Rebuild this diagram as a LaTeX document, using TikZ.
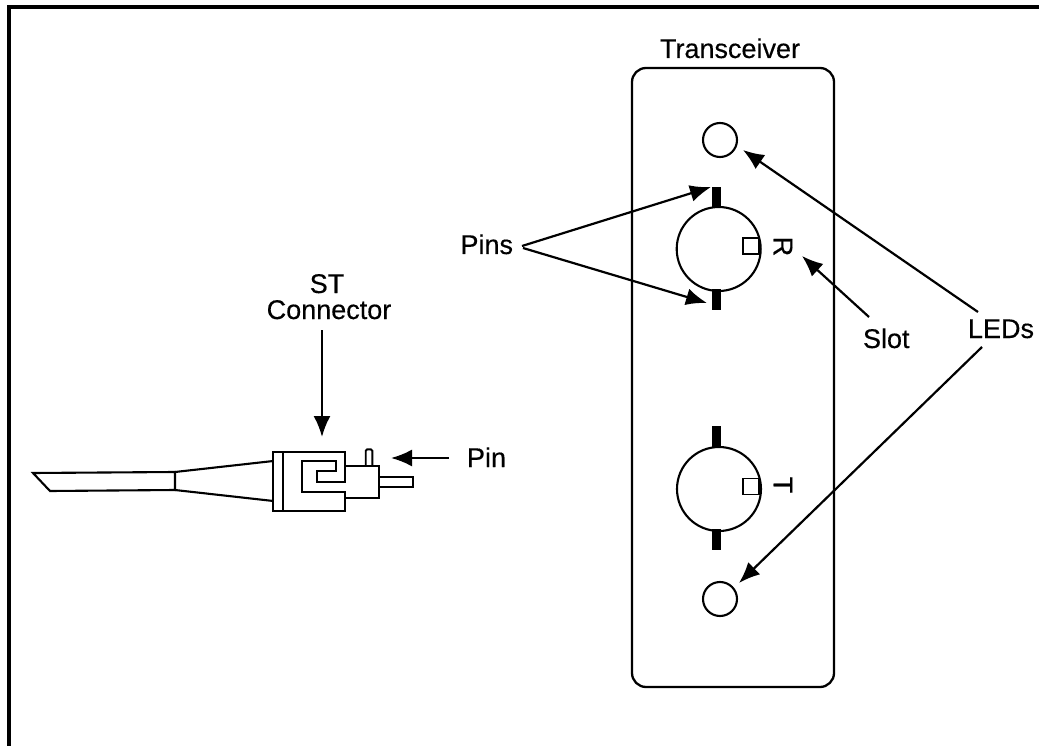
\documentclass[tikz,border=0pt]{standalone}
\usepackage{fontspec}
\setmainfont{Liberation Sans}
\newfontfamily\lblfont[FakeBold=0.35]{Liberation Sans}
\usetikzlibrary{arrows.meta}
\tikzset{
  lbl/.style={inner sep=0pt,outer sep=0pt,font=\lblfont\fontsize{27}{31}\selectfont},
  ink/.style={line width=2.1pt,line join=miter},
  thin ink/.style={line width=1.9pt},
  arrowline/.style={line width=2.2pt,-{Latex[length=21pt,width=17pt]}},
  ledc/.style={circle,draw,line width=2.1pt,minimum size=34pt,inner sep=0pt,outer sep=0pt},
  ferrule/.style={circle,draw,line width=2.1pt,minimum size=84pt,inner sep=0pt,outer sep=0pt},
  pinbar/.style={rectangle,fill=black,minimum width=9.5pt,minimum height=21pt,inner sep=0pt,outer sep=0pt},
  slotbox/.style={rectangle,draw,line width=1.9pt,minimum width=16pt,minimum height=16pt,inner sep=0pt,outer sep=0pt},
}
\begin{document}
\begin{tikzpicture}[x=1pt,y=-1pt]
\useasboundingbox (0,0) rectangle (1039,746);
% frame
\draw[line width=3.8pt] (9,746) -- (9,7) -- (1039,7);
% transceiver panel
\node[draw,line width=2.3pt,rounded corners=14pt,minimum width=202pt,minimum height=619pt,inner sep=0pt,outer sep=0pt] (panel) at (733,377.5) {};
\node[lbl,anchor=base] (title) at (730,58) {Transceiver};
% LEDs
\node[ledc] (ledtop) at (720,140) {};
\node[ledc] (ledbot) at (720,599) {};
% receptacles
\node[ferrule] (rx) at (718.7,249) {};
\node[ferrule] (tx) at (719,489) {};
\node[pinbar] (rxa) at (716.5,197.5) {};
\node[pinbar] (rxb) at (716.5,299.5) {};
\node[pinbar] (txa) at (716.5,436.5) {};
\node[pinbar] (txb) at (716.5,539) {};
\node[slotbox] (rxs) at (751,246) {};
\node[slotbox] (txs) at (751,486.5) {};
\node[lbl,rotate=-90,anchor=center] (rlet) at (783,246.5) {R};
\node[lbl,rotate=-90,anchor=center] (tlet) at (783,485) {T};
% labels
\node[lbl,anchor=base east] (pins) at (513,254) {Pins};
\node[lbl,anchor=base west] (slot) at (863,348) {Slot};
\node[lbl,anchor=base west] (leds) at (968,338) {LEDs};
\node[lbl,anchor=base] (st) at (327,293) {ST};
\node[lbl,anchor=base] (conn) at (329,319) {Connector};
\node[lbl,anchor=base west] (pinl) at (467,467) {Pin};
% connector end points
\coordinate (pinsup) at (522,246);
\coordinate (pinsdn) at (523,248);
\coordinate (pinsupt) at (711,187);
\coordinate (pinsdnt) at (707,303);
\coordinate (slotst) at (869,317);
\coordinate (slott) at (802,256);
\coordinate (ledsup) at (978,312);
\coordinate (ledsdn) at (982,347);
\coordinate (ledupt) at (743,150);
\coordinate (leddnt) at (739,583);
\coordinate (stst) at (322,330);
\coordinate (stt) at (322,437);
\coordinate (pinst) at (449,458);
\coordinate (pint) at (391,458);
% arrows
\draw[arrowline] (pinsup) -- (pinsupt);
\draw[arrowline] (pinsdn) -- (pinsdnt);
\draw[arrowline] (slotst) -- (slott);
\draw[arrowline] (ledsup) -- (ledupt);
\draw[arrowline] (ledsdn) -- (leddnt);
\draw[arrowline] (stst) -- (stt);
\draw[arrowline] (pinst) -- (pint);
% ST connector drawing
\draw[ink] (33,473) -- (175,472) -- (175,490) -- (50,491) -- cycle;
\draw[line width=2.6pt] (175,472) -- (175,490);
\draw[ink] (175,472) -- (273.3,461);
\draw[ink] (175,490) -- (273.3,501);
\draw[ink] (345,481.7) -- (316.7,481.7) -- (316.7,470.7) -- (335.7,470.7) -- (335.7,461) -- (302.3,461) -- (302.3,492.3) -- (345,492.3) -- (345,511) -- (273.3,511) -- (273.3,452) -- (345,452) -- cycle;
\draw[ink] (283,452) -- (283,511);
\draw[ink] (345,465.7) -- (379.3,465.7) -- (379.3,498.3) -- (345,498.3);
\draw[thin ink,rounded corners=1.5pt] (365.7,465.7) -- (365.7,449.3) -- (372.3,449.3) -- (372.3,465.7);
\draw[ink] (379.3,476.7) -- (412.7,476.7) -- (412.7,486.7) -- (379.3,486.7);
\end{tikzpicture}
\end{document}
